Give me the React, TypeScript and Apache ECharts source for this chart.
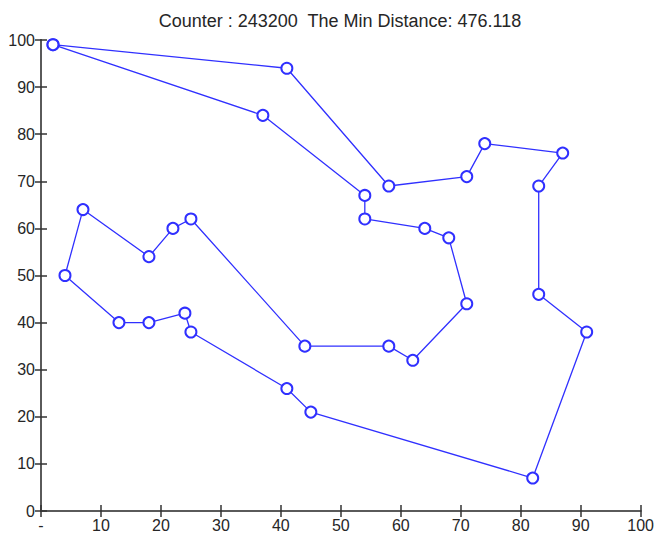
import React, { useEffect, useRef } from "react";
import * as echarts from "echarts";

// Oliver30 city coordinates in visiting order (route)
const routeX = [2, 41, 58, 71, 74, 87, 83, 83, 91, 82, 45, 41, 25, 24, 18, 13, 4, 7, 18, 22, 25, 44, 58, 62, 71, 68, 64, 54, 54, 37];
const routeY = [99, 94, 69, 71, 78, 76, 69, 46, 38, 7, 21, 26, 38, 42, 40, 40, 50, 64, 54, 60, 62, 35, 35, 32, 44, 58, 60, 62, 67, 84];
const counter = 243200;
const minDistance = 476.118;

export default function App() {
  const ref = useRef<HTMLDivElement>(null);
  useEffect(() => {
    if (!ref.current) return;
    const chart = echarts.init(ref.current, null, { renderer: "svg" });
    const pts = routeX.map((x, i) => [x, routeY[i]]);
    pts.push([routeX[0], routeY[0]]);
    const font = "'Liberation Sans', Arial, sans-serif";
    const mkLine = () => ({ show: true, lineStyle: { color: "#5a5a5a", width: 2 } });
    const mkTick = () => ({ show: true, inside: true, length: 6, lineStyle: { color: "#333", width: 1.5 } });
    const label = { color: "#262626", fontSize: 16, fontFamily: font };
    chart.setOption({
      animation: false,
      backgroundColor: "#fff",
      title: {
        text: `Counter : ${counter}  The Min Distance: ${minDistance}`,
        left: 335,
        textAlign: "center",
        top: 7,
        textStyle: { fontSize: 18, fontWeight: "normal", color: "#262626", fontFamily: font },
      },
      grid: { left: 41, right: 16, top: 40, bottom: 27, containLabel: false },
      xAxis: [
        {
          type: "value", min: 0, max: 100, interval: 10, position: "bottom",
          axisLine: mkLine(), axisTick: mkTick(), splitLine: { show: false },
          axisLabel: { ...label, margin: 6, formatter: (v: number) => (v === 0 ? "-" : String(v)) },
        },
        {
          type: "value", min: 0, max: 100, interval: 10, position: "top",
          axisLine: mkLine(), axisTick: mkTick(), splitLine: { show: false }, axisLabel: { show: false },
        },
      ],
      yAxis: [
        {
          type: "value", min: 0, max: 100, interval: 10, position: "left",
          axisLine: mkLine(), axisTick: mkTick(), splitLine: { show: false },
          axisLabel: { ...label, margin: 6 },
        },
        {
          type: "value", min: 0, max: 100, interval: 10, position: "right",
          axisLine: mkLine(), axisTick: mkTick(), splitLine: { show: false }, axisLabel: { show: false },
        },
      ],
      series: [
        {
          type: "line",
          data: pts,
          symbol: "emptyCircle",
          symbolSize: 11,
          showAllSymbol: true,
          lineStyle: { color: "#3030ff", width: 1.3 },
          itemStyle: { color: "#3030ff", borderColor: "#3030ff", borderWidth: 1.1 },
          emphasis: { disabled: true },
        },
      ],
    });
    return () => chart.dispose();
  }, []);
  return (
    <div
      ref={ref}
      style={{ position: "fixed", left: 0, top: 0, width: 657, height: 538, background: "#fff" }}
    />
  );
}
